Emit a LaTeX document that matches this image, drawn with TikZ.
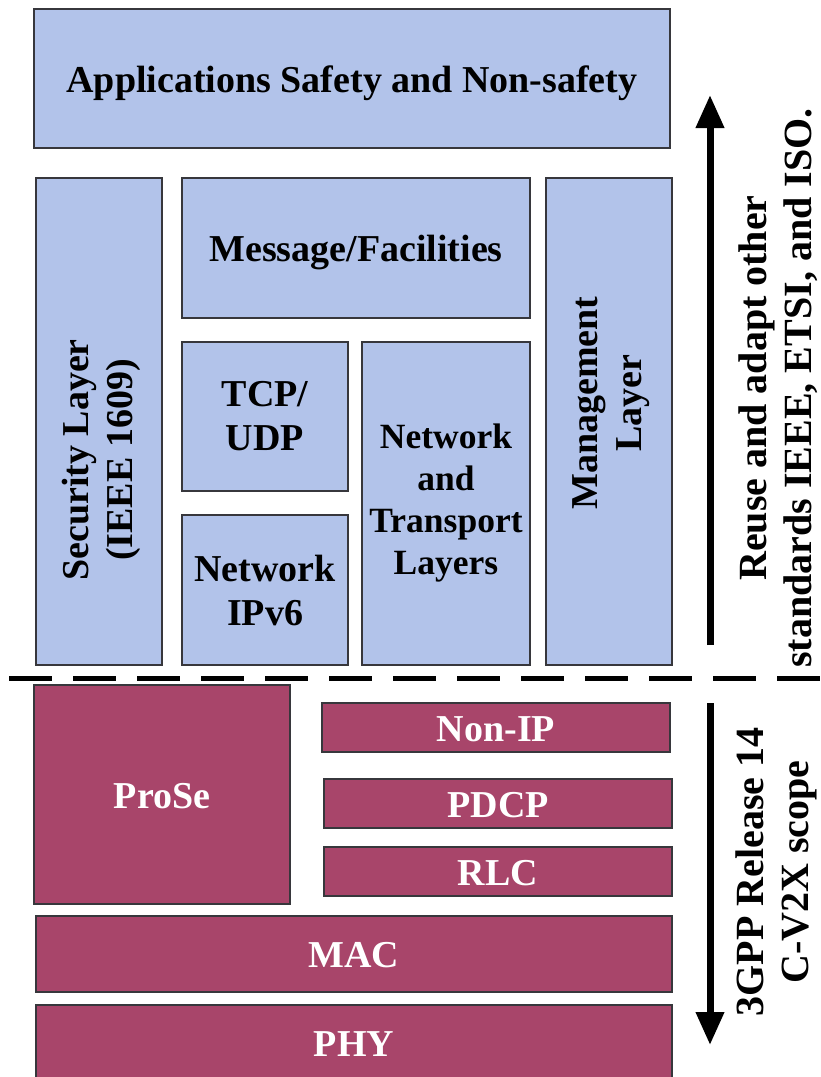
\documentclass[tikz,border=0pt]{standalone}
\usepackage{fontspec}
\setmainfont{Liberation Serif}
\usetikzlibrary{arrows.meta}
\definecolor{bluec}{RGB}{178,195,234}
\definecolor{magc}{RGB}{168,69,106}
\definecolor{bordc}{RGB}{55,55,60}
\tikzset{
  layerbox/.style={draw=bordc, line width=2pt, inner sep=0pt, align=center,
    font=\fontsize{38}{43}\selectfont\bfseries},
  oneline/.style={text height=27pt, text depth=0pt},
  bluebox/.style={layerbox, fill=bluec, text=black},
  magbox/.style={layerbox, fill=magc, text=white},
  vlabel/.style={rotate=90, align=center, inner sep=0pt,
    font=\fontsize{38}{44}\selectfont\bfseries},
  sidelabel/.style={vlabel, font=\fontsize{40}{45}\selectfont\bfseries},
  bigarrow/.style={line width=7pt, -{Triangle[width=27pt,length=33pt]}},
}
\begin{document}
\begin{tikzpicture}[x=1pt,y=-1pt]
\useasboundingbox (0,0) rectangle (820,1077);
\fill[white] (0,0) rectangle (820,1077);
% upper stack
\node[bluebox, oneline, minimum width=636pt, minimum height=139pt] (app) at (352,78.5) {Applications Safety and Non-safety};
\node[bluebox, minimum width=126pt, minimum height=487pt] (sec) at (99,421.5) {};
\node[vlabel] (sectext) at (101,460) {Security Layer\\(IEEE 1609)};
\node[bluebox, oneline, minimum width=348pt, minimum height=140pt] (msg) at (356,248) {Message/Facilities};
\node[bluebox, minimum width=166pt, minimum height=149pt] (tcp) at (265,416.5) {TCP/\\[1pt]UDP};
\node[bluebox, minimum width=166pt, minimum height=150pt] (ipv6) at (265,590) {Network\\[1pt]IPv6};
\node[bluebox, minimum width=168pt, minimum height=323pt, font=\fontsize{35.5}{42}\selectfont\bfseries] (ntl) at (446,503.5) {Network\\and\\Transport\\Layers};
\node[bluebox, minimum width=126pt, minimum height=487pt] (mgmt) at (609,421.5) {};
\node[vlabel] (mgmttext) at (611,403) {Management\\Layer};
% dashed separator
\coordinate (dl) at (9,678);
\coordinate (dr) at (820,678);
\draw[line width=5pt, dash pattern=on 43pt off 21pt] (dl) -- (dr);
% lower stack
\node[magbox, oneline, minimum width=256pt, minimum height=219pt] (prose) at (162,794.5) {ProSe};
\node[magbox, oneline, minimum width=348pt, minimum height=49pt] (nonip) at (496,727.5) {Non-IP};
\node[magbox, oneline, minimum width=348pt, minimum height=49pt] (pdcp) at (498,803.5) {PDCP};
\node[magbox, oneline, minimum width=348pt, minimum height=49pt] (rlc) at (498,871.5) {RLC};
\node[magbox, oneline, minimum width=636pt, minimum height=76pt] (mac) at (354,954) {MAC};
\node[magbox, oneline, minimum width=636pt, minimum height=76pt] (phy) at (354,1043) {PHY};
% arrows and side labels
\coordinate (upS) at (710,645);
\coordinate (upE) at (710,95);
\draw[bigarrow] (upS) -- (upE);
\coordinate (dnS) at (710,703);
\coordinate (dnE) at (710,1045);
\draw[bigarrow] (dnS) -- (dnE);
\node[sidelabel] (reuse) at (778,388) {Reuse and adapt other\\standards IEEE, ETSI, and ISO.};
\node[sidelabel] (gpp) at (776,872) {3GPP Release 14\\C-V2X scope};
\end{tikzpicture}
\end{document}
